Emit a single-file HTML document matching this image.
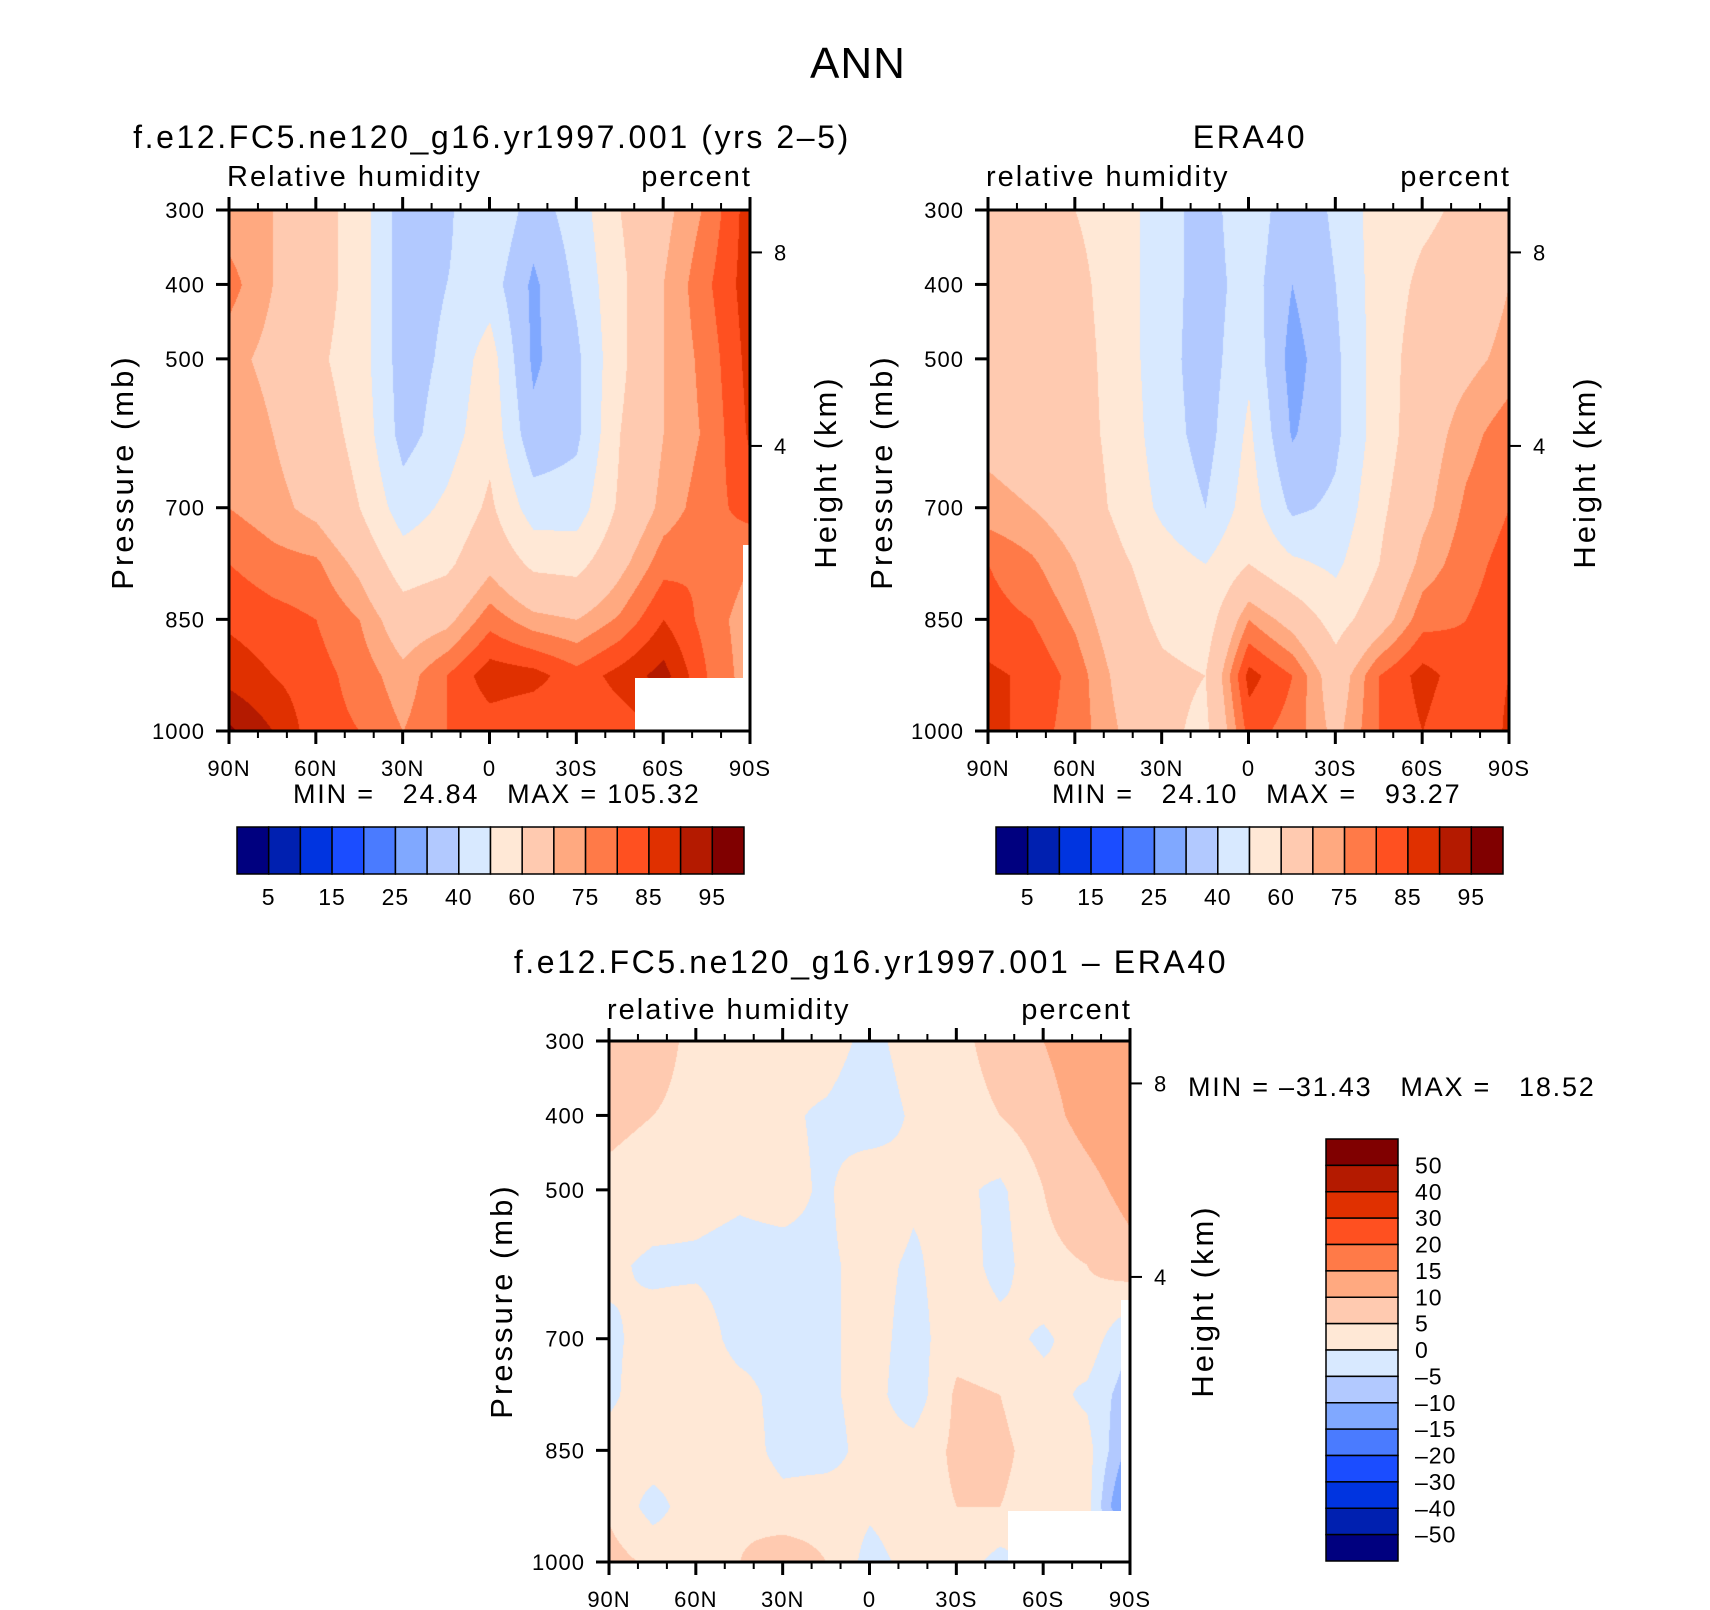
<!DOCTYPE html>
<html><head><meta charset="utf-8">
<style>
html,body{margin:0;padding:0;background:#fff;}
#wrap{position:relative;width:1710px;height:1610px;overflow:hidden;font-family:"Liberation Sans","DejaVu Sans",sans-serif;}
canvas{position:absolute;}
svg{position:absolute;left:0;top:0;}
text{font-family:"Liberation Sans","DejaVu Sans",sans-serif;fill:#000;}
.pt{font-size:32px;letter-spacing:2.6px;}
.vl{font-size:29px;letter-spacing:2px;}
.mm{font-size:27px;letter-spacing:1.8px;}
.at{font-size:31px;letter-spacing:3px;}
</style></head>
<body>
<div id="wrap">
<canvas id="c1" width="521" height="521" style="left:229px;top:210px"></canvas>
<canvas id="c2" width="521" height="521" style="left:988px;top:210px"></canvas>
<canvas id="c3" width="521" height="521" style="left:609px;top:1041px"></canvas>
<svg id="ov" width="1710" height="1610">
<text x="858" y="78" font-size="44" letter-spacing="1" text-anchor="middle">ANN</text>
<text class="pt" x="492" y="148" text-anchor="middle">f.e12.FC5.ne120_g16.yr1997.001 (yrs 2–5)</text>
<text class="pt" x="1250" y="148" text-anchor="middle">ERA40</text>
<text class="pt" x="871" y="973" text-anchor="middle">f.e12.FC5.ne120_g16.yr1997.001 – ERA40</text>
<text class="vl" x="227" y="186">Relative humidity</text>
<text class="vl" x="752" y="186" text-anchor="end">percent</text>
<text class="vl" x="986" y="186">relative humidity</text>
<text class="vl" x="1511" y="186" text-anchor="end">percent</text>
<text class="vl" x="607" y="1019">relative humidity</text>
<text class="vl" x="1132" y="1019" text-anchor="end">percent</text>
<text class="mm" x="293" y="803" xml:space="preserve">MIN =   24.84   MAX = 105.32</text>
<text class="mm" x="1052" y="803" xml:space="preserve">MIN =   24.10   MAX =   93.27</text>
<text class="mm" x="1188" y="1096" xml:space="preserve">MIN = –31.43   MAX =   18.52</text>
<text class="at" transform="translate(133,472) rotate(-90)" text-anchor="middle">Pressure (mb)</text>
<text class="at" transform="translate(892,472) rotate(-90)" text-anchor="middle">Pressure (mb)</text>
<text class="at" transform="translate(512,1301) rotate(-90)" text-anchor="middle">Pressure (mb)</text>
<text class="at" transform="translate(836,472) rotate(-90)" text-anchor="middle">Height (km)</text>
<text class="at" transform="translate(1595,472) rotate(-90)" text-anchor="middle">Height (km)</text>
<text class="at" transform="translate(1213,1301) rotate(-90)" text-anchor="middle">Height (km)</text>
</svg>
</div>
<script>
// ---- data ----
const lats = [90,75,60,45,30,15,0,-15,-30,-45,-60,-75,-90];
const levels = [300,400,500,600,700,775,850,925,1000];
const modelRH = [
 [72,70,65,55,35,38,50,35,45,60,68,76,88],
 [77,70,65,55,35,40,45,28,42,58,70,79,88],
 [72,68,62,55,35,42,55,28,38,58,70,77,87],
 [75,70,65,57,36,45,57,33,38,60,70,76,86],
 [75,72,68,60,45,52,62,45,45,62,72,78,82],
 [80,77,76,68,55,58,68,58,57,68,78,80,75],
 [84,82,80,75,65,68,78,72,70,76,85,78,72],
 [88,85,82,78,72,80,88,87,82,87,92,80,72],
 [96,90,82,80,75,80,82,80,80,82,85,80,75]
];
const eraRH = [
 [62,62,60,55,45,35,48,32,42,55,58,62,65],
 [68,65,63,55,45,35,45,30,40,55,62,65,70],
 [68,66,64,56,44,35,48,26,38,55,65,68,72],
 [68,66,64,57,45,36,52,29,38,55,66,73,78],
 [72,70,66,58,48,40,55,38,42,58,68,76,80],
 [80,76,70,62,55,50,60,52,48,60,72,78,82],
 [82,80,74,65,58,55,75,67,56,66,78,80,83],
 [86,84,78,68,62,60,87,80,65,80,87,82,85],
 [88,82,78,70,62,58,82,78,68,80,85,80,86]
];
const diffRH = [
 [10,8,3,2,2,3,-2,3,3,8,10,13,15],
 [6,5,3,2,1,-1,-4,1,2,5,8,12,15],
 [4,3,2,1,2,-1,5,1,1,-1,5,8,12],
 [1,-1,-1,-2,-2,-1,2,-1,3,-2,4,5,8],
 [-1,2,3,-2,-2,-1,2,-2,3,2,-1,3,-5],
 [-1,3,3,2,-2,-1,2,-3,6,5,2,-1,-8],
 [2,3,2,3,-2,-2,2,2,6,6,3,2,-12],
 [4,-2,3,4,2,3,1,3,5,5,3,2,-20],
 [7,4,2,5,8,5,-2,2,3,-2,2,2,2]
];
const rhLevels = [5,10,15,20,25,30,40,50,60,70,75,80,85,90,95];
const diffLevels = [-50,-40,-30,-20,-15,-10,-5,0,5,10,15,20,30,40,50];
const rhLabels = ["5","15","25","40","60","75","85","95"];
const diffLabels = ["50","40","30","20","15","10","5","0","–5","–10","–15","–20","–30","–40","–50"];
const xTickLabels = ["90N","60N","30N","0","30S","60S","90S"];
const xTickLats = [90,60,30,0,-30,-60,-90];
const pTicks = [300,400,500,700,850,1000];
const heightTicks = [{km:8,p:357},{km:4,p:617}];
const palette = ["#00007f","#0020b0","#0034e0","#1b4dff","#4a7bff","#80a8ff","#b2c9ff","#d8e9ff","#ffe8d6","#ffcab0","#ffa980","#ff7a48","#ff5020","#e03000","#b41a00","#800000"];

const W=521,H=521;
function xOf(lat,L){return L+(90-lat)/180*W;}
function yOf(p,T){return T+(p-300)/700*H;}
function sample(grid,lat,p){
  let fi=(90-lat)/15; fi=Math.max(0,Math.min(lats.length-1.0001,fi));
  let j=0; while(j<levels.length-2 && p>levels[j+1]) j++;
  let fj=(p-levels[j])/(levels[j+1]-levels[j]); fj=Math.max(0,Math.min(1,fj));
  const i=Math.floor(fi), fx=fi-i;
  const a=grid[j][i],b=grid[j][i+1],c=grid[j+1][i],d=grid[j+1][i+1];
  return (a*(1-fx)+b*fx)*(1-fj)+(c*(1-fx)+d*fx)*fj;
}
function hex(h){return [parseInt(h.substr(1,2),16),parseInt(h.substr(3,2),16),parseInt(h.substr(5,2),16)];}
const pal=palette.map(hex);
function fill(id,grid,lev){
  const cv=document.getElementById(id),ctx=cv.getContext('2d');
  const img=ctx.createImageData(W,H);
  for(let py=0;py<H;py++){const p=300+py/H*700;
    for(let px=0;px<W;px++){const lat=90-px/W*180;
      const v=sample(grid,lat,p); let k=0; while(k<lev.length && v>=lev[k]) k++;
      const c=pal[k],o=(py*W+px)*4; img.data[o]=c[0];img.data[o+1]=c[1];img.data[o+2]=c[2];img.data[o+3]=255;}}
  ctx.putImageData(img,0,0);
}
fill('c1',modelRH,rhLevels);fill('c2',eraRH,rhLevels);fill('c3',diffRH,diffLevels);

const NS="http://www.w3.org/2000/svg";
const ov=document.getElementById('ov');
function el(tag,attrs,parent){const e=document.createElementNS(NS,tag);for(const k in attrs)e.setAttribute(k,attrs[k]);(parent||ov).appendChild(e);return e;}

function mask(x,y,w,h){
  const r=el('rect',{x:x,y:y,width:w,height:h,fill:'#fff'});
  
  
}
mask(635,678,115,53);mask(743,545,7,186);
mask(1008,1511,123,54);mask(1121,1300,10,265);

function axes(L,T,name){
  const g=el('g',{});
  
  
  const fr=el('rect',{x:L,y:T,width:W,height:H,fill:'none',stroke:'#000','stroke-width':3},g);
  
  
  for(let lat=90;lat>=-90;lat-=10){
    const x=xOf(lat,L), major=(lat%30===0), len=major?13:7;
    const t1=el('line',{x1:x,y1:T,x2:x,y2:T-len,stroke:'#000','stroke-width':major?3:2},g);
    
    
    const t2=el('line',{x1:x,y1:T+H,x2:x,y2:T+H+len,stroke:'#000','stroke-width':major?3:2},g);
    
    
  }
  xTickLats.forEach((lat,i)=>{
    const t=el('text',{x:xOf(lat,L),y:T+H+45,'font-size':22,'letter-spacing':1,'text-anchor':'middle'},g);
    t.textContent=xTickLabels[i];
    
    
  });
  pTicks.forEach(p=>{
    const y=yOf(p,T);
    const l=el('line',{x1:L,y1:y,x2:L-13,y2:y,stroke:'#000','stroke-width':3},g);
    
    
    const t=el('text',{x:L-24,y:y+8,'font-size':22,'letter-spacing':1,'text-anchor':'end'},g);
    t.textContent=p;
    
    
  });
  heightTicks.forEach(h=>{
    const y=yOf(h.p,T);
    const l=el('line',{x1:L+W,y1:y,x2:L+W+12,y2:y,stroke:'#000','stroke-width':2},g);
    
    
    const t=el('text',{x:L+W+24,y:y+8,'font-size':22},g);
    t.textContent=h.km;
    
    
  });
}
axes(229,210,'model');axes(988,210,'era40');axes(609,1041,'difference');

function hbar(L,T,name){
  const bw=507/16;
  palette.forEach((c,i)=>{
    const r=el('rect',{x:L+i*bw,y:T,width:bw,height:47,fill:c,stroke:'#000','stroke-width':1.5});
    
    
  });
  rhLabels.forEach((s,i)=>{
    const t=el('text',{x:L+(1+2*i)*bw,y:T+78,'font-size':23,'letter-spacing':1,'text-anchor':'middle'});
    t.textContent=s;
    
    
  });
}
hbar(237,827,'model');hbar(996,827,'era40');

(function(){
  const L=1326,T=1139,bh=422/16;
  palette.slice().reverse().forEach((c,i)=>{
    const r=el('rect',{x:L,y:T+i*bh,width:72,height:bh,fill:c,stroke:'#000','stroke-width':1.5});
    
    
  });
  diffLabels.forEach((s,i)=>{
    const t=el('text',{x:1415,y:T+(i+1)*bh+8,'font-size':23,'letter-spacing':1});
    t.textContent=s;
    
    
  });
})();
</script>
</body></html>
